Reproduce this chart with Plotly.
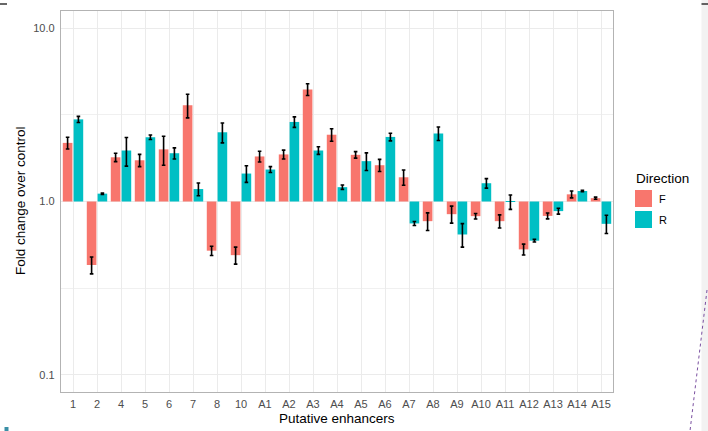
import plotly.graph_objects as go


# ==========================================================
# DATA
# ==========================================================

enhancers = [
    "1", "2", "4", "5", "6", "7", "8", "10",
    "A1", "A2", "A3", "A4", "A5", "A6", "A7", "A8",
    "A9", "A10", "A11", "A12", "A13", "A14", "A15"
]

fold_f = [
    2.18, 0.43, 1.80, 1.73, 2.00, 3.60, 0.52, 0.49,
    1.82, 1.87, 4.44, 2.43, 1.86, 1.62, 1.38, 0.77,
    0.845, 0.823, 0.77, 0.529, 0.826, 1.10, 1.045
]
err_f = [
    0.17, 0.048, 0.10, 0.14, 0.38, 0.56, 0.032, 0.055,
    0.13, 0.11, 0.35, 0.20, 0.08, 0.13, 0.14, 0.09,
    0.095, 0.03, 0.067, 0.038, 0.032, 0.05, 0.015
]

fold_r = [
    2.98, 1.11, 1.97, 2.35, 1.90, 1.18, 2.51, 1.45,
    1.53, 2.88, 1.97, 1.21, 1.71, 2.36, 0.747, 2.47,
    0.645, 1.275, 0.995, 0.594, 0.88, 1.15, 0.743
]
err_r = [
    0.12, 0.01, 0.37, 0.07, 0.14, 0.10, 0.33, 0.16,
    0.06, 0.20, 0.10, 0.035, 0.20, 0.12, 0.02, 0.22,
    0.10, 0.08, 0.095, 0.01, 0.035, 0.01, 0.09
]

directions = ["F", "R"]
colors = ["#F8766D", "#00BFC4"]

font_family = "Liberation Sans, Arial, sans-serif"

W, H = 708, 431
ML, MR, MT, MB = 61, 95, 11, 39


def px_x(x):
    # pixel column -> paper x
    return (x - ML) / (W - ML - MR)


def px_y(y):
    # pixel row (from top) -> paper y
    return (H - MB - y) / (H - MT - MB)


# ==========================================================
# BARS (drawn from 1.0 on a log scale)
# ==========================================================

fig = go.Figure()

for name, vals, errs, col in zip(
    directions, [fold_f, fold_r], [err_f, err_r], colors
):
    fig.add_trace(
        go.Bar(
            x=enhancers,
            y=[v - 1 for v in vals],
            base=[1] * len(vals),
            name=name,
            marker=dict(color=col, line=dict(width=0)),
            error_y=dict(
                type="data",
                array=errs,
                color="black",
                thickness=1.6,
                width=1.8
            ),
            showlegend=False,
            hoverinfo="skip"
        )
    )


# ==========================================================
# LAYOUT
# ==========================================================

grid = "#ebebeb"
border = "#b3b3b3"

fig.update_layout(
    width=W,
    height=H,
    margin=dict(l=ML, r=MR, t=MT, b=MB),
    barmode="group",
    bargap=0.1,
    bargroupgap=0.11,
    plot_bgcolor="white",
    paper_bgcolor="white",
    font=dict(family=font_family, color="#4d4d4d", size=11),
)

fig.update_xaxes(
    type="category",
    automargin=False,
    showgrid=True,
    gridcolor=grid,
    gridwidth=1,
    showline=True,
    linecolor=border,
    linewidth=1.3,
    mirror=True,
    ticks="outside",
    ticklen=2,
    tickcolor="rgba(0,0,0,0)",
    tickfont=dict(size=11, color="#4d4d4d"),
)

fig.update_yaxes(
    type="log",
    automargin=False,
    range=[-1.1, 1.1],
    tickvals=[0.1, 1, 10],
    ticktext=["0.1", "1.0", "10.0"],
    showgrid=True,
    gridcolor=grid,
    gridwidth=1,
    minor=dict(
        tickvals=[10 ** -0.5, 10 ** 0.5],
        showgrid=True,
        gridcolor="#f0f0f0",
        gridwidth=0.8,
        ticks=""
    ),
    zeroline=False,
    showline=True,
    linecolor=border,
    linewidth=1.3,
    mirror=True,
    ticks="outside",
    ticklen=3,
    tickcolor="rgba(0,0,0,0)",
    tickfont=dict(size=11, color="#4d4d4d"),
)


# ==========================================================
# AXIS TITLES
# ==========================================================

fig.add_annotation(
    x=px_x(337), y=px_y(418), xref="paper", yref="paper",
    text="Putative enhancers", showarrow=False,
    xanchor="center", yanchor="middle",
    font=dict(size=13.5, color="black", family=font_family)
)
fig.add_annotation(
    x=px_x(20), y=px_y(201), xref="paper", yref="paper",
    text="Fold change over control", showarrow=False, textangle=-90,
    xanchor="center", yanchor="middle",
    font=dict(size=13.5, color="black", family=font_family)
)


# ==========================================================
# LEGEND (ggplot style keys)
# ==========================================================

fig.add_annotation(
    x=px_x(634), y=px_y(178), xref="paper", yref="paper",
    text="Direction", showarrow=False,
    xanchor="left", yanchor="middle",
    font=dict(size=13.5, color="black", family=font_family)
)

for i, (name, col) in enumerate(zip(directions, colors)):
    top = 190 + i * 21
    fig.add_shape(
        type="rect",
        x0=px_x(635), x1=px_x(652), y0=px_y(top), y1=px_y(top + 17),
        xref="paper", yref="paper",
        fillcolor=col, line=dict(width=0)
    )
    fig.add_annotation(
        x=px_x(657), y=px_y(top + 8.5), xref="paper", yref="paper",
        text=name, showarrow=False,
        xanchor="left", yanchor="middle",
        font=dict(size=11, color="black", family=font_family)
    )


# ==========================================================
# SCREENSHOT EDGE DETAILS
# ==========================================================

fig.add_shape(
    type="rect", xref="paper", yref="paper",
    x0=px_x(701.5), x1=px_x(708), y0=px_y(431), y1=px_y(0),
    fillcolor="#f2f2f2", line=dict(width=0), layer="below"
)
fig.add_shape(
    type="line", xref="paper", yref="paper",
    x0=px_x(707), y0=px_y(290), x1=px_x(690), y1=px_y(431),
    line=dict(color="#7a4fa0", width=1, dash="dot")
)
for x0, x1 in [(0, 7), (701.5, 708)]:
    fig.add_shape(
        type="line", xref="paper", yref="paper",
        x0=px_x(x0), y0=px_y(4), x1=px_x(x1), y1=px_y(4),
        line=dict(color="black", width=1.2)
    )
fig.add_shape(
    type="rect", xref="paper", yref="paper",
    x0=px_x(4.5), x1=px_x(8.5), y0=px_y(431), y1=px_y(427),
    fillcolor="#3a8fa6", line=dict(width=0)
)

fig.write_html(
    "out.html",
    config={"displayModeBar": False},
    post_script="document.body.style.margin='0';"
                "document.body.style.overflow='hidden';"
)
